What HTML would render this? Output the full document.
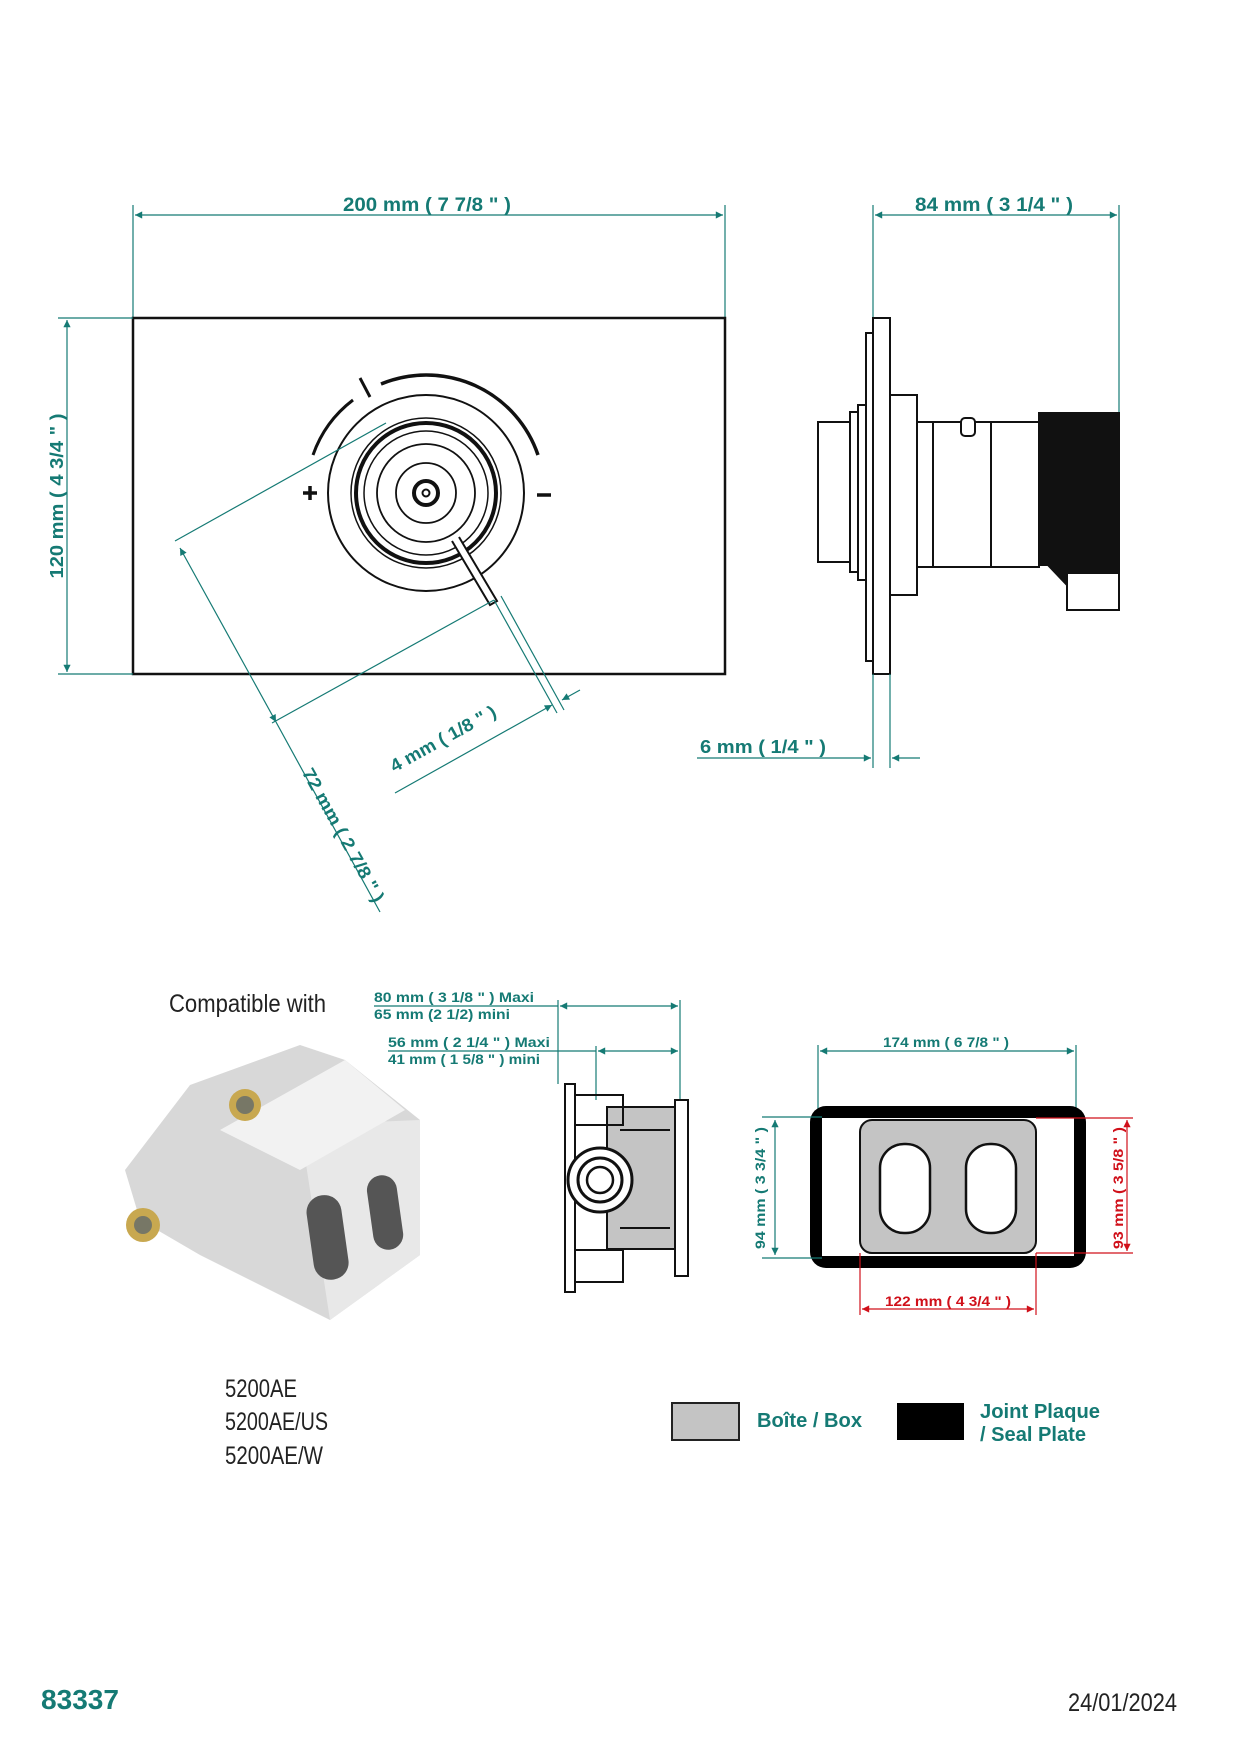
<!DOCTYPE html>
<html><head><meta charset="utf-8"><style>
html,body{margin:0;padding:0;background:#fff}
svg{display:block}
.t{font-family:"Liberation Sans",sans-serif;fill:#157a74;font-weight:bold}
.dl{stroke:#157a74;stroke-width:1.2;fill:none}
.k{stroke:#111;fill:none}
.n{font-family:"Liberation Sans Narrow","Liberation Sans",sans-serif;fill:#222}
</style></head><body>
<svg width="1236" height="1752" viewBox="0 0 1236 1752" xmlns="http://www.w3.org/2000/svg">
<defs>
<marker id="a" viewBox="0 0 10 10" refX="10" refY="5" markerWidth="9" markerHeight="6" orient="auto-start-reverse"><path d="M0,0L10,5L0,10z" fill="#157a74"/></marker>
<marker id="r" viewBox="0 0 10 10" refX="10" refY="5" markerWidth="9" markerHeight="6" orient="auto-start-reverse"><path d="M0,0L10,5L0,10z" fill="#d0101a"/></marker>
</defs>
<!-- Top front view -->
<line class="dl" x1="133" y1="205" x2="133" y2="318"/><line class="dl" x1="725" y1="205" x2="725" y2="318"/>
<line class="dl" x1="135" y1="215" x2="723" y2="215" marker-start="url(#a)" marker-end="url(#a)"/>
<text class="t" x="427" y="211" font-size="19" text-anchor="middle" textLength="168" lengthAdjust="spacingAndGlyphs">200 mm ( 7 7/8 " )</text>
<rect x="133" y="318" width="592" height="356" class="k" stroke-width="2.5"/>
<line class="dl" x1="58" y1="318" x2="133" y2="318"/><line class="dl" x1="58" y1="674" x2="133" y2="674"/>
<line class="dl" x1="67" y1="320" x2="67" y2="672" marker-start="url(#a)" marker-end="url(#a)"/>
<text class="t" transform="translate(63,496) rotate(-90)" font-size="18" text-anchor="middle" textLength="165" lengthAdjust="spacingAndGlyphs">120 mm ( 4 3/4 " )</text>
<!-- knob -->
<g class="k">
<circle cx="426" cy="493" r="98" stroke-width="2"/>
<circle cx="426" cy="493" r="75" stroke-width="1.5"/>
<circle cx="426" cy="493" r="70" stroke-width="4"/>
<circle cx="426" cy="493" r="62" stroke-width="1.5"/>
<circle cx="426" cy="493" r="49" stroke-width="1.8"/>
<circle cx="426" cy="493" r="30" stroke-width="1.8"/>
<circle cx="426" cy="493" r="12" stroke-width="4"/>
<circle cx="426" cy="493" r="3.5" stroke-width="2"/>
<path d="M381,384 A118 118 0 0 1 538 455" stroke-width="3.5"/>
<path d="M313,455 A118 118 0 0 1 353 400" stroke-width="3"/>
<line x1="360" y1="378" x2="370" y2="397" stroke-width="3"/>
<path d="M303,493h14M310,486v14" stroke-width="3.5"/>
<path d="M537,495h14" stroke-width="3.5"/>
<path d="M452,541 L490,605 L497,601 L459,537" stroke-width="2" fill="#fff"/>
</g>
<!-- diagonal dims -->
<line class="dl" x1="175" y1="541" x2="386" y2="423"/>
<line class="dl" x1="272" y1="723" x2="494" y2="600"/>
<line class="dl" x1="180" y1="548" x2="276" y2="722" marker-start="url(#a)" marker-end="url(#a)"/>
<line class="dl" x1="276" y1="722" x2="380" y2="912"/>
<line class="dl" x1="494" y1="600" x2="557" y2="713"/><line class="dl" x1="501" y1="596" x2="564" y2="710"/>
<line class="dl" x1="395" y1="793" x2="552" y2="705" marker-end="url(#a)"/>
<line class="dl" x1="580" y1="690" x2="562" y2="700" marker-end="url(#a)"/>
<text class="t" transform="translate(446,744) rotate(-29)" font-size="18" text-anchor="middle" textLength="118" lengthAdjust="spacingAndGlyphs">4 mm ( 1/8 " )</text>
<text class="t" transform="translate(338,838) rotate(61)" font-size="18" text-anchor="middle" textLength="150" lengthAdjust="spacingAndGlyphs">72 mm ( 2 7/8 " )</text>
<!-- side view -->
<line class="dl" x1="873" y1="205" x2="873" y2="318"/><line class="dl" x1="1119" y1="205" x2="1119" y2="413"/>
<line class="dl" x1="875" y1="215" x2="1117" y2="215" marker-start="url(#a)" marker-end="url(#a)"/>
<text class="t" x="994" y="211" font-size="19" text-anchor="middle" textLength="158" lengthAdjust="spacingAndGlyphs">84 mm ( 3 1/4 " )</text>
<g class="k" stroke-width="2">
<rect x="866" y="333" width="7" height="328"/>
<rect x="873" y="318" width="17" height="356"/>
<rect x="890" y="395" width="27" height="200"/>
<rect x="858" y="405" width="8" height="175"/>
<rect x="850" y="412" width="8" height="160"/>
<rect x="818" y="422" width="32" height="140"/>
<rect x="917" y="422" width="122" height="145"/>
<line x1="933" y1="422" x2="933" y2="567"/><line x1="991" y1="422" x2="991" y2="567"/>
<rect x="961" y="418" width="14" height="18" rx="4" fill="#fff"/>
<path d="M1039,413 H1119 V610 H1067 V585 L1048,565 H1039 Z" fill="#111"/>
<rect x="1067" y="573" width="52" height="37" fill="#fff"/>
</g>
<line class="dl" x1="873" y1="674" x2="873" y2="768"/><line class="dl" x1="890" y1="674" x2="890" y2="768"/>
<line class="dl" x1="697" y1="758" x2="871" y2="758" marker-end="url(#a)"/>
<line class="dl" x1="920" y1="758" x2="892" y2="758" marker-end="url(#a)"/>
<text class="t" x="700" y="753" font-size="18" textLength="126" lengthAdjust="spacingAndGlyphs">6 mm ( 1/4 " )</text>
<!-- bottom -->
<text class="n" x="169" y="1012" font-size="25" textLength="157" lengthAdjust="spacingAndGlyphs">Compatible with</text>
<!-- product photo simplified -->
<g>
<path d="M190,1085 L300,1045 L345,1060 L420,1120 L420,1255 L330,1320 L200,1255 L140,1220 L125,1170 Z" fill="#d8d8d8"/>
<path d="M300,1125 L420,1120 L420,1255 L330,1320 Z" fill="#e8e8e8"/>
<path d="M220,1130 L345,1060 L405,1110 L300,1170 Z" fill="#f2f2f2"/>
<rect x="310" y="1195" width="35" height="85" rx="17" fill="#555" transform="rotate(-8 327 1237)"/>
<rect x="370" y="1175" width="30" height="75" rx="15" fill="#555" transform="rotate(-8 385 1212)"/>
<circle cx="245" cy="1105" r="16" fill="#c8a850"/><circle cx="245" cy="1105" r="9" fill="#776"/>
<circle cx="143" cy="1225" r="17" fill="#c8a850"/><circle cx="143" cy="1225" r="9" fill="#776"/>
</g>
<text class="n" x="225" y="1397" font-size="25" textLength="72" lengthAdjust="spacingAndGlyphs">5200AE</text>
<text class="n" x="225" y="1430" font-size="25" textLength="103" lengthAdjust="spacingAndGlyphs">5200AE/US</text>
<text class="n" x="225" y="1464" font-size="25" textLength="98" lengthAdjust="spacingAndGlyphs">5200AE/W</text>
<!-- box side -->
<line class="dl" x1="374" y1="1006" x2="558" y2="1006"/>
<line class="dl" x1="560" y1="1006" x2="678" y2="1006" marker-start="url(#a)" marker-end="url(#a)"/>
<line class="dl" x1="388" y1="1051" x2="596" y2="1051"/>
<line class="dl" x1="598" y1="1051" x2="678" y2="1051" marker-start="url(#a)" marker-end="url(#a)"/>
<line class="dl" x1="558" y1="1000" x2="558" y2="1084"/><line class="dl" x1="596" y1="1046" x2="596" y2="1100"/><line class="dl" x1="680" y1="1000" x2="680" y2="1100"/>
<text class="t" x="374" y="1002" font-size="14" textLength="160" lengthAdjust="spacingAndGlyphs">80 mm ( 3 1/8 " )  Maxi</text>
<text class="t" x="374" y="1019" font-size="14" textLength="136" lengthAdjust="spacingAndGlyphs">65 mm (2 1/2)  mini</text>
<text class="t" x="388" y="1047" font-size="14" textLength="162" lengthAdjust="spacingAndGlyphs">56 mm ( 2 1/4 " )  Maxi</text>
<text class="t" x="388" y="1064" font-size="14" textLength="152" lengthAdjust="spacingAndGlyphs">41 mm ( 1 5/8 " ) mini</text>
<g class="k" stroke-width="2">
<rect x="607" y="1107" width="68" height="142" fill="#c4c4c4"/>
<rect x="565" y="1084" width="10" height="208"/>
<rect x="575" y="1095" width="48" height="30"/><rect x="575" y="1250" width="48" height="32"/>
<rect x="575" y="1125" width="32" height="125"/>
<rect x="675" y="1100" width="13" height="176"/>
<circle cx="600" cy="1180" r="32" fill="#fff" stroke-width="3"/>
<circle cx="600" cy="1180" r="22" stroke-width="3"/>
<circle cx="600" cy="1180" r="13" stroke-width="2.5"/>
<line x1="620" y1="1130" x2="670" y2="1130"/><line x1="620" y1="1228" x2="670" y2="1228"/>
</g>
<!-- front box -->
<line class="dl" x1="818" y1="1045" x2="818" y2="1110"/><line class="dl" x1="1076" y1="1045" x2="1076" y2="1110"/>
<line class="dl" x1="820" y1="1051" x2="1074" y2="1051" marker-start="url(#a)" marker-end="url(#a)"/>
<text class="t" x="946" y="1047" font-size="14" text-anchor="middle" textLength="126" lengthAdjust="spacingAndGlyphs">174 mm ( 6 7/8 " )</text>
<rect x="810" y="1106" width="276" height="162" rx="16" fill="#000"/>
<rect x="822" y="1118" width="252" height="138" fill="#fff"/>
<rect x="860" y="1120" width="176" height="133" rx="12" fill="#c4c4c4" stroke="#111" stroke-width="2"/>
<rect x="880" y="1144" width="50" height="89" rx="24" fill="#fff" stroke="#111" stroke-width="2.5"/>
<rect x="966" y="1144" width="50" height="89" rx="24" fill="#fff" stroke="#111" stroke-width="2.5"/>
<line class="dl" x1="762" y1="1117" x2="822" y2="1117"/><line class="dl" x1="762" y1="1258" x2="822" y2="1258"/>
<line class="dl" x1="775" y1="1120" x2="775" y2="1255" marker-start="url(#a)" marker-end="url(#a)"/>
<text class="t" transform="translate(765,1188) rotate(-90)" font-size="14" text-anchor="middle" textLength="122" lengthAdjust="spacingAndGlyphs">94 mm  ( 3 3/4 " )</text>
<g stroke="#d0101a" stroke-width="1.2" fill="none">
<line x1="1036" y1="1118" x2="1133" y2="1118"/><line x1="1036" y1="1253" x2="1133" y2="1253"/>
<line x1="1127" y1="1120" x2="1127" y2="1251" marker-start="url(#r)" marker-end="url(#r)"/>
<line x1="860" y1="1253" x2="860" y2="1315"/><line x1="1036" y1="1253" x2="1036" y2="1315"/>
<line x1="862" y1="1309" x2="1034" y2="1309" marker-start="url(#r)" marker-end="url(#r)"/>
</g>
<text transform="translate(1123,1188) rotate(-90)" font-family="Liberation Sans,sans-serif" font-weight="bold" fill="#d0101a" font-size="14" text-anchor="middle" textLength="122" lengthAdjust="spacingAndGlyphs">93 mm  ( 3 5/8 " )</text>
<text x="948" y="1306" font-family="Liberation Sans,sans-serif" font-weight="bold" fill="#d0101a" font-size="14" text-anchor="middle" textLength="126" lengthAdjust="spacingAndGlyphs">122 mm ( 4 3/4 " )</text>
<!-- legend -->
<rect x="672" y="1403" width="67" height="37" fill="#c4c4c4" stroke="#222" stroke-width="2"/>
<text class="t" x="757" y="1427" font-size="20" textLength="105" lengthAdjust="spacingAndGlyphs">Boîte / Box</text>
<rect x="897" y="1403" width="67" height="37" fill="#000"/>
<text class="t" x="980" y="1418" font-size="20" textLength="120" lengthAdjust="spacingAndGlyphs">Joint Plaque</text>
<text class="t" x="980" y="1441" font-size="20" textLength="106" lengthAdjust="spacingAndGlyphs">/ Seal Plate</text>
<text class="t" x="41" y="1709" font-size="28" textLength="78" lengthAdjust="spacingAndGlyphs">83337</text>
<text class="n" x="1068" y="1711" font-size="25" textLength="109" lengthAdjust="spacingAndGlyphs">24/01/2024</text>
</svg>
</body></html>
